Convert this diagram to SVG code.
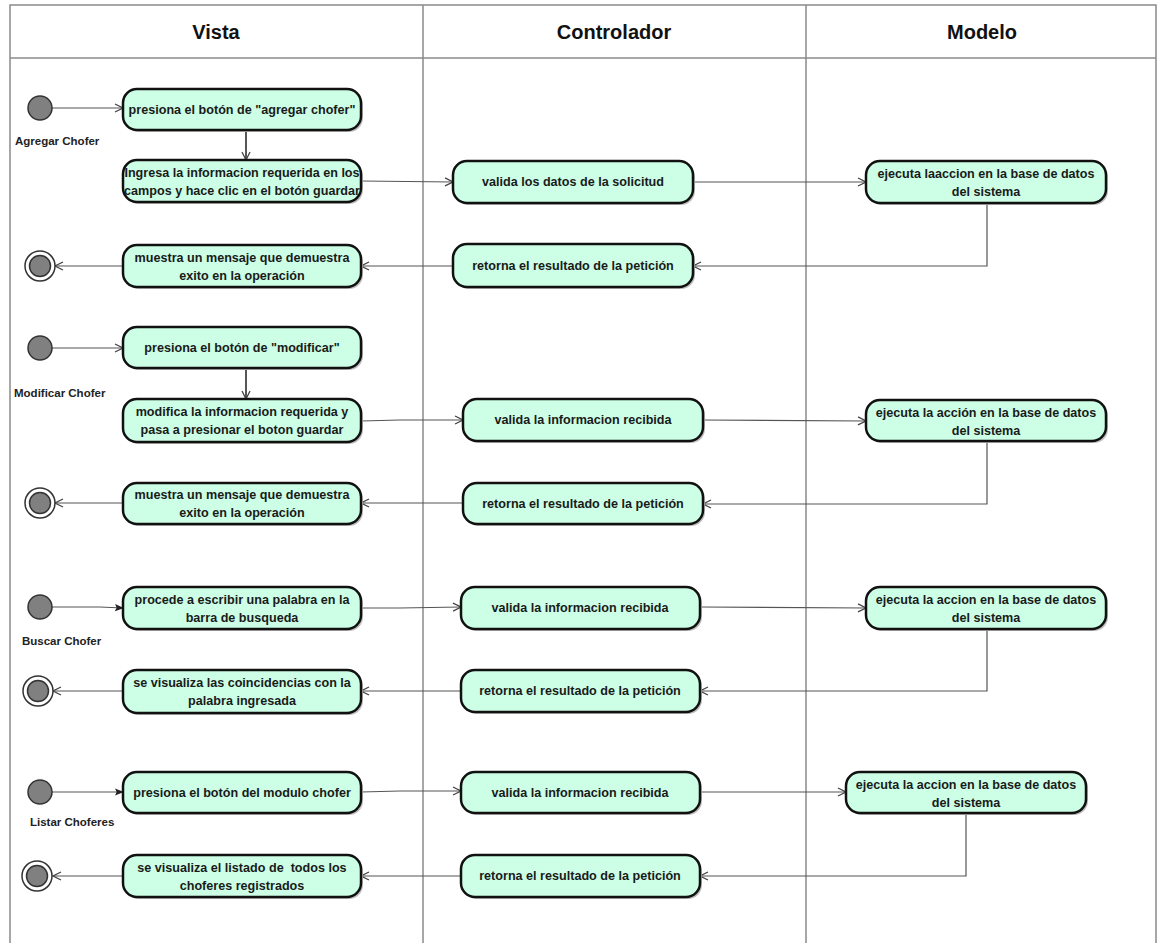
<svg xmlns="http://www.w3.org/2000/svg" width="1158" height="943" viewBox="0 0 1158 943">
<style>
.frame{fill:none;stroke:#8a8a8a;stroke-width:1.5}
.hdr{font-family:"Liberation Sans",Arial,sans-serif;font-weight:bold;font-size:20px;fill:#111;text-anchor:middle}
.node rect.b{fill:#ccffe6;stroke:#111;stroke-width:2.5}
.node rect.s{fill:#bdbdbd}
.t{font-family:"Liberation Sans",Arial,sans-serif;font-weight:bold;font-size:12.6px;fill:#1a1a1a;text-anchor:middle;white-space:pre}
.lbl{font-family:"Liberation Sans",Arial,sans-serif;font-weight:bold;font-size:11.5px;fill:#222}
.init{fill:#808080;stroke:#333;stroke-width:1.5}
.fo{fill:#fff;stroke:#333;stroke-width:1.5}
.fi{fill:#808080;stroke:#333;stroke-width:1.5}
.c{fill:none;stroke:#555;stroke-width:1.2}
.cd{fill:none;stroke:#444;stroke-width:1.8}
</style>
<defs>
<marker id="open" viewBox="0 0 10 10" refX="9" refY="5" markerWidth="10" markerHeight="10" markerUnits="userSpaceOnUse" orient="auto">
<path d="M1,1 L9,5 L1,9" fill="none" stroke="#444" stroke-width="1.3"/>
</marker>
<marker id="fill" viewBox="0 0 10 10" refX="9" refY="5" markerWidth="9" markerHeight="9" markerUnits="userSpaceOnUse" orient="auto">
<path d="M0,1 L10,5 L0,9 L2,5 Z" fill="#222"/>
</marker>
</defs>
<rect width="1158" height="943" fill="#fff"/>
<g id="swimlanes">
<path class="frame" d="M10,945 V5 H1156 V945"/>
<line class="frame" x1="10" y1="58" x2="1156" y2="58"/>
<line class="frame" x1="423" y1="5" x2="423" y2="945"/>
<line class="frame" x1="806" y1="5" x2="806" y2="945"/>
<text class="hdr" x="216" y="39">Vista</text>
<text class="hdr" x="614" y="39">Controlador</text>
<text class="hdr" x="982" y="39">Modelo</text>
</g>
<g id="connectors">
<line class="c" x1="52" y1="108" x2="123" y2="108" marker-end="url(#open)"/>
<line class="cd" x1="246" y1="130" x2="246" y2="160" marker-end="url(#open)"/>
<line class="c" x1="361" y1="181" x2="453" y2="182" marker-end="url(#open)"/>
<line class="c" x1="693" y1="182" x2="866" y2="182" marker-end="url(#open)"/>
<polyline class="c" points="987,203 987,266 693,266" marker-end="url(#open)"/>
<line class="c" x1="453" y1="266" x2="361" y2="266" marker-end="url(#open)"/>
<line class="c" x1="123" y1="266" x2="55" y2="266" marker-end="url(#open)"/>
<line class="c" x1="52" y1="348" x2="123" y2="348" marker-end="url(#open)"/>
<line class="cd" x1="246" y1="368" x2="246" y2="399" marker-end="url(#open)"/>
<polyline class="c" points="361,421 400,420 463,420" marker-end="url(#open)"/>
<line class="c" x1="703" y1="420" x2="866" y2="421" marker-end="url(#open)"/>
<polyline class="c" points="987,441 987,504 703,504" marker-end="url(#open)"/>
<line class="c" x1="463" y1="503" x2="361" y2="503" marker-end="url(#open)"/>
<line class="c" x1="123" y1="503" x2="55" y2="503" marker-end="url(#open)"/>
<polyline class="c" points="52,607 100,607 123,608" marker-end="url(#fill)"/>
<polyline class="c" points="361,608 400,608 461,607" marker-end="url(#open)"/>
<line class="c" x1="700" y1="607" x2="866" y2="608" marker-end="url(#open)"/>
<polyline class="c" points="987,629 987,691 700,691" marker-end="url(#open)"/>
<line class="c" x1="461" y1="691" x2="361" y2="691" marker-end="url(#open)"/>
<line class="c" x1="123" y1="691" x2="53" y2="691" marker-end="url(#open)"/>
<line class="c" x1="52" y1="792" x2="123" y2="792" marker-end="url(#fill)"/>
<polyline class="c" points="361,792 400,791 461,791" marker-end="url(#open)"/>
<line class="c" x1="700" y1="792" x2="846" y2="792" marker-end="url(#open)"/>
<polyline class="c" points="966,813 966,876 700,876" marker-end="url(#open)"/>
<line class="c" x1="461" y1="876" x2="361" y2="876" marker-end="url(#open)"/>
<line class="c" x1="123" y1="876" x2="53" y2="876" marker-end="url(#open)"/>
</g>

<g id="start-agregar"><circle class="init" cx="40" cy="108" r="12"/><text class="lbl" x="15" y="145">Agregar Chofer</text></g>
<g id="v-agregar-1" class="node"><rect class="s" x="125" y="91" width="238" height="41" rx="14"/><rect class="b" x="123" y="89" width="238" height="41" rx="14"/><text class="t" x="242" y="114">presiona el botón de "agregar chofer"</text></g>
<g id="v-agregar-2" class="node"><rect class="s" x="125" y="162" width="238" height="42" rx="14"/><rect class="b" x="123" y="160" width="238" height="42" rx="14"/><text class="t" x="242" y="177">Ingresa la informacion requerida en los</text><text class="t" x="242" y="195">campos y hace clic en el botón guardar</text></g>
<g id="c-agregar-1" class="node"><rect class="s" x="455" y="163" width="240" height="42" rx="14"/><rect class="b" x="453" y="161" width="240" height="42" rx="14"/><text class="t" x="573" y="186">valida los datos de la solicitud</text></g>
<g id="m-agregar" class="node"><rect class="s" x="868" y="163" width="240" height="42" rx="14"/><rect class="b" x="866" y="161" width="240" height="42" rx="14"/><text class="t" x="986" y="178">ejecuta laaccion en la base de datos</text><text class="t" x="986" y="196">del sistema</text></g>
<g id="c-agregar-2" class="node"><rect class="s" x="455" y="246" width="240" height="43" rx="14"/><rect class="b" x="453" y="244" width="240" height="43" rx="14"/><text class="t" x="573" y="270">retorna el resultado de la petición</text></g>
<g id="v-agregar-3" class="node"><rect class="s" x="125" y="247" width="238" height="42" rx="14"/><rect class="b" x="123" y="245" width="238" height="42" rx="14"/><text class="t" x="242" y="262">muestra un mensaje que demuestra</text><text class="t" x="242" y="280">exito en la operación</text></g>
<g id="end-agregar"><circle class="fo" cx="40" cy="266" r="15"/><circle class="fi" cx="40" cy="266" r="10.5"/></g>

<g id="start-modificar"><circle class="init" cx="40" cy="348" r="12"/><text class="lbl" x="14" y="397">Modificar Chofer</text></g>
<g id="v-modificar-1" class="node"><rect class="s" x="125" y="329" width="238" height="41" rx="14"/><rect class="b" x="123" y="327" width="238" height="41" rx="14"/><text class="t" x="242" y="352">presiona el botón de "modificar"</text></g>
<g id="v-modificar-2" class="node"><rect class="s" x="125" y="401" width="238" height="43" rx="14"/><rect class="b" x="123" y="399" width="238" height="43" rx="14"/><text class="t" x="242" y="416">modifica la informacion requerida y</text><text class="t" x="242" y="434">pasa a presionar el boton guardar</text></g>
<g id="c-modificar-1" class="node"><rect class="s" x="465" y="401" width="240" height="42" rx="14"/><rect class="b" x="463" y="399" width="240" height="42" rx="14"/><text class="t" x="583" y="424">valida la informacion recibida</text></g>
<g id="m-modificar" class="node"><rect class="s" x="868" y="402" width="240" height="41" rx="14"/><rect class="b" x="866" y="400" width="240" height="41" rx="14"/><text class="t" x="986" y="417">ejecuta la acción en la base de datos</text><text class="t" x="986" y="435">del sistema</text></g>
<g id="c-modificar-2" class="node"><rect class="s" x="465" y="485" width="240" height="41" rx="14"/><rect class="b" x="463" y="483" width="240" height="41" rx="14"/><text class="t" x="583" y="508">retorna el resultado de la petición</text></g>
<g id="v-modificar-3" class="node"><rect class="s" x="125" y="485" width="238" height="41" rx="14"/><rect class="b" x="123" y="483" width="238" height="41" rx="14"/><text class="t" x="242" y="499">muestra un mensaje que demuestra</text><text class="t" x="242" y="517">exito en la operación</text></g>
<g id="end-modificar"><circle class="fo" cx="40" cy="503" r="15"/><circle class="fi" cx="40" cy="503" r="10.5"/></g>

<g id="start-buscar"><circle class="init" cx="40" cy="607" r="12"/><text class="lbl" x="22" y="645">Buscar Chofer</text></g>
<g id="v-buscar-1" class="node"><rect class="s" x="125" y="589" width="238" height="42" rx="14"/><rect class="b" x="123" y="587" width="238" height="42" rx="14"/><text class="t" x="242" y="604">procede a escribir una palabra en la</text><text class="t" x="242" y="622">barra de busqueda</text></g>
<g id="c-buscar-1" class="node"><rect class="s" x="463" y="589" width="239" height="42" rx="14"/><rect class="b" x="461" y="587" width="239" height="42" rx="14"/><text class="t" x="580" y="612">valida la informacion recibida</text></g>
<g id="m-buscar" class="node"><rect class="s" x="868" y="589" width="240" height="42" rx="14"/><rect class="b" x="866" y="587" width="240" height="42" rx="14"/><text class="t" x="986" y="604">ejecuta la accion en la base de datos</text><text class="t" x="986" y="622">del sistema</text></g>
<g id="c-buscar-2" class="node"><rect class="s" x="463" y="672" width="239" height="42" rx="14"/><rect class="b" x="461" y="670" width="239" height="42" rx="14"/><text class="t" x="580" y="695">retorna el resultado de la petición</text></g>
<g id="v-buscar-2" class="node"><rect class="s" x="125" y="672" width="238" height="43" rx="14"/><rect class="b" x="123" y="670" width="238" height="43" rx="14"/><text class="t" x="242" y="687">se visualiza las coincidencias con la</text><text class="t" x="242" y="705">palabra ingresada</text></g>
<g id="end-buscar"><circle class="fo" cx="38" cy="691" r="15"/><circle class="fi" cx="38" cy="691" r="10.5"/></g>

<g id="start-listar"><circle class="init" cx="40" cy="792" r="12"/><text class="lbl" x="30" y="826">Listar Choferes</text></g>
<g id="v-listar-1" class="node"><rect class="s" x="125" y="774" width="238" height="41" rx="14"/><rect class="b" x="123" y="772" width="238" height="41" rx="14"/><text class="t" x="242" y="797">presiona el botón del modulo chofer</text></g>
<g id="c-listar-1" class="node"><rect class="s" x="463" y="774" width="239" height="41" rx="14"/><rect class="b" x="461" y="772" width="239" height="41" rx="14"/><text class="t" x="580" y="797">valida la informacion recibida</text></g>
<g id="m-listar" class="node"><rect class="s" x="848" y="774" width="240" height="41" rx="14"/><rect class="b" x="846" y="772" width="240" height="41" rx="14"/><text class="t" x="966" y="789">ejecuta la accion en la base de datos</text><text class="t" x="966" y="807">del sistema</text></g>
<g id="c-listar-2" class="node"><rect class="s" x="463" y="857" width="239" height="42" rx="14"/><rect class="b" x="461" y="855" width="239" height="42" rx="14"/><text class="t" x="580" y="880">retorna el resultado de la petición</text></g>
<g id="v-listar-2" class="node"><rect class="s" x="125" y="857" width="238" height="42" rx="14"/><rect class="b" x="123" y="855" width="238" height="42" rx="14"/><text class="t" x="242" y="872" xml:space="preserve">se visualiza el listado de  todos los</text><text class="t" x="242" y="890">choferes registrados</text></g>
<g id="end-listar"><circle class="fo" cx="37" cy="876" r="15"/><circle class="fi" cx="37" cy="876" r="10.5"/></g>
</svg>
